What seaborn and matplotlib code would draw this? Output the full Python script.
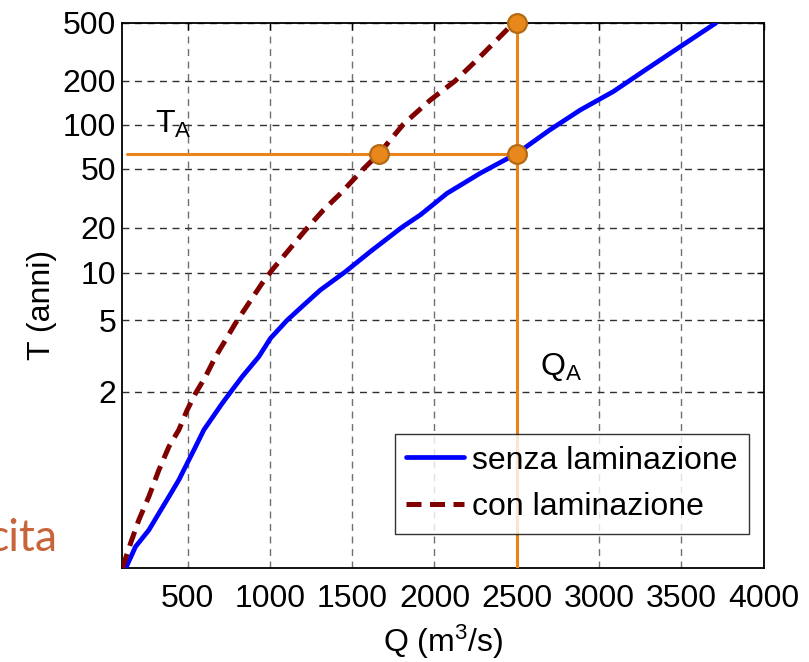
import numpy as np
import pandas as pd
import matplotlib
matplotlib.use("Agg")
import matplotlib.pyplot as plt
from matplotlib.ticker import FixedLocator, FixedFormatter, NullLocator
import seaborn as sns

# Gumbel plotting position of the bottom edge (reduced variate)
Y_BOTTOM = -2.434

# Flood frequency curves: discharge Q (m3/s) against return period T (years)
q_senza = [125, 184, 265, 326, 387, 447, 498, 549, 599, 711, 771, 832, 933, 1004,
           1105, 1206, 1307, 1459, 1610, 1803, 1914, 2076, 2278, 2500, 2700, 2885,
           3087, 3289, 3492, 3710]
t_senza = [1.0000115, 1.000306, 1.002, 1.0086, 1.0264, 1.064, 1.131, 1.2357, 1.390,
           1.769, 2.038, 2.376, 3.046, 3.891, 5.0, 6.22, 7.75, 10.18, 13.8, 20.1,
           24.3, 34.0, 46.6, 63.5, 92.0, 126.0, 169.0, 241.0, 343.0, 500.0]

q_con = [104, 154, 204, 265, 326, 387, 447, 498, 549, 609, 670, 731, 791, 872, 953,
         1014, 1115, 1216, 1325, 1430, 1568, 1661, 1812, 1975, 2126, 2258, 2419, 2480]
t_con = [1.0000115, 1.00047, 1.005, 1.0264, 1.0999, 1.2357, 1.390, 1.656, 1.966,
         2.376, 3.046, 3.80, 4.79, 6.38, 8.56, 10.45, 14.15, 19.2, 26.2, 34.0, 49.8,
         63.0, 101.0, 147.8, 200.0, 278.4, 424.8, 500.0]

# Design values
Q_A = 2500          # design discharge without lamination
Q_A_LAM = 1661      # discharge with lamination for the same return period
T_A = 63            # return period of the design discharge
T_MAX = 500
Q_LINE_START = 130

x_ticks = [500, 1000, 1500, 2000, 2500, 3000, 3500, 4000]
y_ticks = [2, 5, 10, 20, 50, 100, 200, 500]
y_tick_labels = [str(v) for v in y_ticks]


def gumbel_fwd(T):
    T = np.asarray(T, dtype=float)
    with np.errstate(all="ignore"):
        p = 1.0 - 1.0 / np.maximum(T, 1.0 + 1e-14)
        return -np.log(-np.log(p))


def gumbel_inv(y):
    y = np.asarray(y, dtype=float)
    with np.errstate(all="ignore"):
        return 1.0 / (1.0 - np.exp(-np.exp(-y)))


t_bottom = float(gumbel_inv(Y_BOTTOM))

sns.set_style("white")
plt.rcParams["font.family"] = ["Liberation Sans", "DejaVu Sans"]
plt.rcParams["mathtext.fontset"] = "custom"
plt.rcParams["mathtext.rm"] = "Liberation Sans"
plt.rcParams["mathtext.it"] = "Liberation Sans"
for key in ["text.color", "axes.labelcolor", "xtick.color", "ytick.color",
            "axes.edgecolor"]:
    plt.rcParams[key] = "black"

fig = plt.figure(figsize=(8.09, 6.62), dpi=100)
ax = fig.add_axes([0.1504, 0.1415, 0.7936, 0.8238])
ax.set_yscale("function", functions=(gumbel_fwd, gumbel_inv))

df_senza = pd.DataFrame({"Q": q_senza, "T": t_senza})
df_con = pd.DataFrame({"Q": q_con, "T": t_con})

sns.lineplot(data=df_senza, x="Q", y="T", ax=ax, color="#0000FF", lw=3.4,
             sort=False, estimator=None, label="senza laminazione", zorder=3)
sns.lineplot(data=df_con, x="Q", y="T", ax=ax, color="#800000", lw=3.6,
             sort=False, estimator=None, label="con laminazione", zorder=3,
             linestyle=(0, (3.0, 1.7)), dash_capstyle="butt")

orange = "#E8841A"
ax.plot([Q_A, Q_A], [t_bottom, T_MAX], color=orange, lw=2.2, zorder=4)
ax.plot([Q_LINE_START, Q_A], [T_A, T_A], color=orange, lw=2.2, zorder=4)
ax.plot([Q_A_LAM, Q_A, Q_A], [T_A, T_A, T_MAX], ls="none", marker="o", ms=13.5,
        mfc="#E8881C", mec="#B46A12", mew=1.6, zorder=5, clip_on=False)

ax.set_xlim(100, 4000)
ax.set_ylim(t_bottom, T_MAX)
ax.xaxis.set_major_locator(FixedLocator(x_ticks))
ax.yaxis.set_major_locator(FixedLocator(y_ticks))
ax.yaxis.set_major_formatter(FixedFormatter(y_tick_labels))
ax.yaxis.set_minor_locator(NullLocator())
ax.xaxis.set_minor_locator(NullLocator())

ax.tick_params(axis="both", which="major", direction="in", top=True, right=True,
               length=5, width=1, labelsize=23, colors="black")
ax.tick_params(axis="x", pad=11)
ax.tick_params(axis="y", pad=4)

ax.xaxis.grid(True, color="#707070", lw=1.0, ls=(0, (5, 4)), zorder=0)
ax.yaxis.grid(True, color="#303030", lw=1.0, ls=(0, (5, 4)), zorder=0)
ax.set_axisbelow(True)
for s in ax.spines.values():
    s.set_color("black")
    s.set_linewidth(1.3)

ax.set_xlabel(r"Q (m$\mathregular{^3}$/s)", fontsize=23)
ax.set_ylabel("T (anni)", fontsize=23)
ax.xaxis.set_label_coords(0.5, -0.1535)
ax.xaxis.label.set_va("baseline")
ax.yaxis.set_label_coords(-0.1008, 0.483)

ax.text(0.0519, 0.798, r"$\mathregular{T_A}$", transform=ax.transAxes,
        fontsize=23, va="baseline", ha="left")
ax.text(0.6516, 0.3545, r"$\mathregular{Q_A}$", transform=ax.transAxes,
        fontsize=23, va="baseline", ha="left")

leg = ax.legend(loc="lower right", bbox_to_anchor=(0.977, 0.063), borderaxespad=0,
                fontsize=23, frameon=True, fancybox=False, handlelength=1.8,
                handletextpad=0.25, labelspacing=0.53, borderpad=0.36)
leg.get_frame().set_edgecolor("black")
leg.get_frame().set_linewidth(1.0)
for t in leg.get_texts():
    t.set_color("black")

fig.text(-0.016, (662 - 551) / 662, "cita", color="#C8643A", fontsize=32,
         family="Lato", ha="left", va="baseline")

fig.savefig("out.png", dpi=100)
